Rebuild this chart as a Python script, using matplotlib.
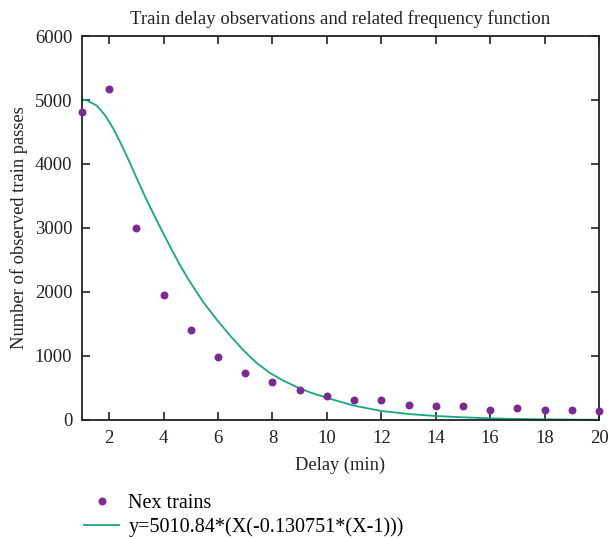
import matplotlib
matplotlib.use("Agg")
import matplotlib.pyplot as plt
from matplotlib.lines import Line2D

plt.rcParams['font.family'] = ['Liberation Serif', 'DejaVu Serif']

# Observed data
delay = [1, 2, 3, 4, 5, 6, 7, 8, 9, 10, 11, 12, 13, 14, 15, 16, 17, 18, 19, 20]
passes = [4820, 5170, 3000, 1953, 1410, 990, 730, 594, 464, 375, 318, 308, 240, 224, 219, 152, 188, 156, 156, 141]

# Fitted curve values
curve_x = [1.0, 1.18, 1.55, 1.86, 2.16, 2.47, 2.78, 3.08, 3.39, 3.69, 4.0, 4.31, 4.61, 4.95,
           5.46, 5.95, 6.44, 6.93, 7.42, 7.91, 8.4, 8.89, 9.38, 10.1, 11, 12, 13, 14, 15, 16,
           17, 18, 19, 20]
curve_y = [5010, 4994, 4911, 4755, 4547, 4286, 4000, 3713, 3427, 3166, 2906, 2650, 2415, 2170,
           1840, 1570, 1320, 1090, 890, 734, 614, 516, 431, 333, 224, 141, 94, 62, 42, 26,
           16, 10, 6, 4]

xticks = [2, 4, 6, 8, 10, 12, 14, 16, 18, 20]
yticks = [0, 1000, 2000, 3000, 4000, 5000, 6000]

title = "Train delay observations and related frequency function"
xlabel = "Delay (min)"
ylabel = "Number of observed train passes"
label_pts = "Nex trains"
label_fit = "y=5010.84*(X(-0.130751*(X-1)))"

purple = "#7B2A93"
green = "#14A882"
ink = "#222222"

fig = plt.figure(figsize=(6.09, 5.39), dpi=100)
ax = fig.add_axes([0.1346, 0.2208, 0.849, 0.7124])

ax.plot(curve_x, curve_y, color=green, lw=1.3, clip_on=False, zorder=2,
        solid_joinstyle='round')
ax.plot(delay, passes, 'o', color=purple, ms=4.7, clip_on=False, zorder=3)

ax.set_xlim(1, 20)
ax.set_ylim(0, 6000)
ax.set_xticks(xticks)
ax.set_yticks(yticks)
ax.tick_params(direction='in', length=6, width=1.2, top=True, right=True,
               labelsize=13.5, colors=ink)
ax.tick_params(axis='x', pad=7.5, labeltop=False)
ax.tick_params(axis='y', pad=7)
for s in ax.spines.values():
    s.set_linewidth(1.3)
    s.set_color(ink)

ax.set_title(title, fontsize=13.5, pad=8.5, color=ink)
ax.set_xlabel(xlabel, fontsize=13.3, labelpad=6.5, color=ink)
ax.set_ylabel(ylabel, fontsize=13.3, labelpad=5, color=ink)

handles = [Line2D([], [], ls='none', marker='o', ms=4.7, color=purple),
           Line2D([], [], color=green, lw=1.3)]
fig.legend(handles, [label_pts, label_fit], loc='upper left',
           bbox_to_anchor=(0.125, 0.098), frameon=False, fontsize=14.5,
           handlelength=1.74, handletextpad=0.45, labelspacing=0.2,
           borderaxespad=0)

fig.savefig("out.png", dpi=100)
